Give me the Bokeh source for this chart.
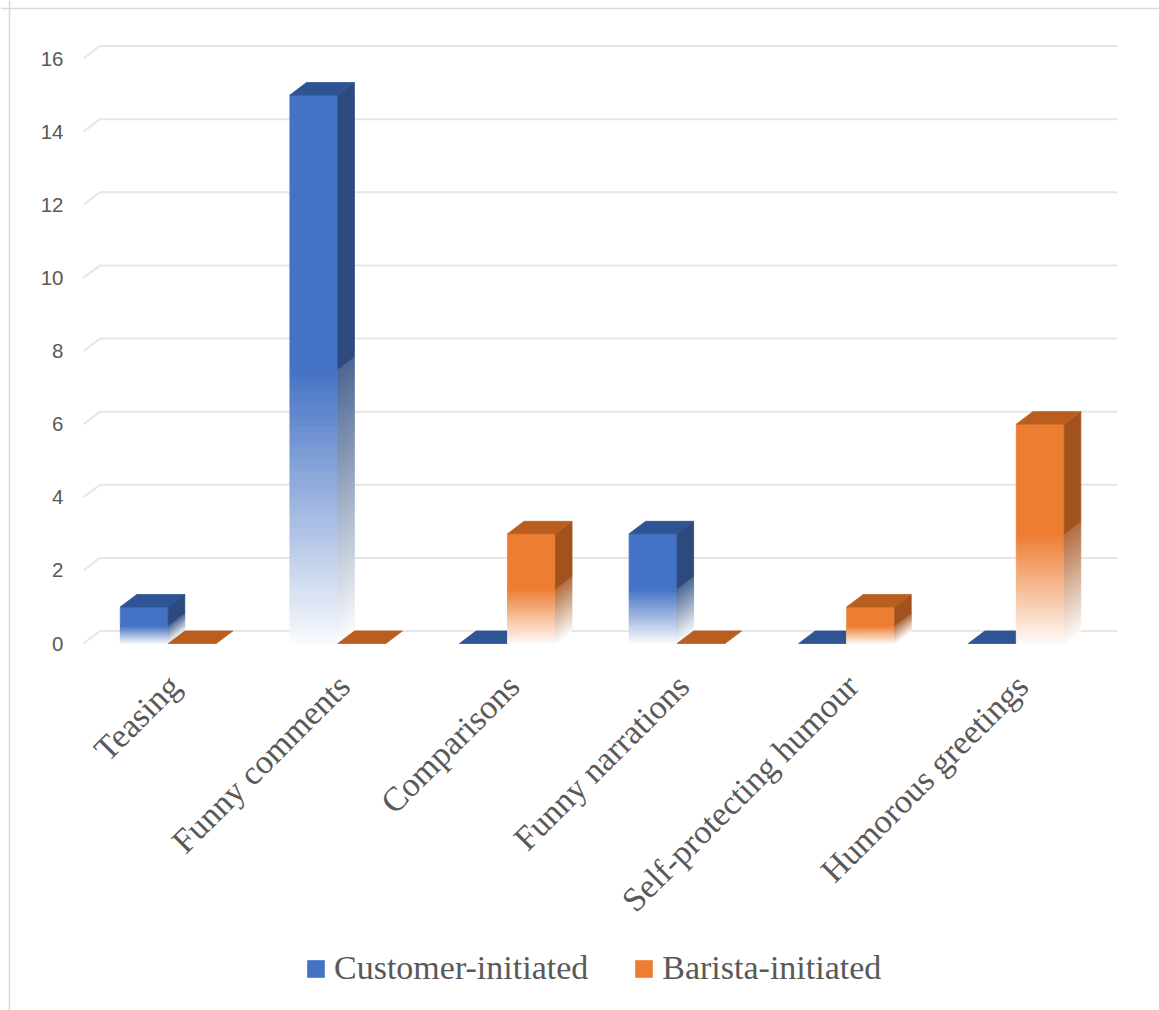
import numpy as np
from bokeh.plotting import figure
from bokeh.models import Legend, LegendItem, Span
from bokeh.embed import file_html
from bokeh.resources import INLINE
from bokeh.core.properties import value

# ---------------- data ----------------
categories = ["Teasing", "Funny comments", "Comparisons", "Funny narrations",
              "Self-protecting humour", "Humorous greetings"]
customer_initiated = [1, 15, 0, 3, 0, 0]
barista_initiated = [0, 0, 3, 0, 1, 6]
series_names = ["Customer-initiated", "Barista-initiated"]
y_ticks = [0, 2, 4, 6, 8, 10, 12, 14, 16]

# ---------------- styling ----------------
front_colors = ["#4472C4", "#ED7D31"]
top_colors = ["#2F5493", "#BA5E20"]
side_colors = ["#2C4A7E", "#A2521C"]
text_color = "#595959"
grid_color = "#E6E6E6"

W, H = 1159, 1010
X0PX, CATPX = 83.0, 169.6      # pixel of category axis start, pixels per category
ZEROPX, UNITPX = 643.0, 36.56  # pixel of value 0 (front), pixels per unit
x_start, x_end = -X0PX / CATPX, (W - X0PX) / CATPX
y_start, y_end = (ZEROPX - H) / UNITPX, ZEROPX / UNITPX

BW = 48.0 / CATPX     # bar width (category units)
DX = 16.5 / CATPX     # depth offset x
DY = 12.5 / UNITPX    # depth offset y
NSTRIP = 48
SOLID_FRAC = 0.5      # top part of each bar drawn solid, below it fades


def hex2rgb(h):
    h = h.lstrip("#")
    return tuple(int(h[i:i + 2], 16) for i in (0, 2, 4))


def blend(h, f):
    r, g, b = hex2rgb(h)
    return "#%02x%02x%02x" % tuple(int(round(c * f + 255 * (1 - f))) for c in (r, g, b))


p = figure(width=W, height=H, x_range=(x_start, x_end), y_range=(y_start, y_end),
           output_backend="svg", toolbar_location=None,
           x_axis_location=None, y_axis_location=None, min_border=0,
           outline_line_color=None, background_fill_color="white",
           border_fill_color="white")
p.grid.visible = False

# chart border (left and top edges visible)
p.add_layout(Span(location=(9 - X0PX) / CATPX, dimension="height",
                  line_color="#D9D9D9", line_width=1.5))
p.add_layout(Span(location=(ZEROPX - 8) / UNITPX, dimension="width",
                  line_color="#D9D9D9", line_width=1.5))

# ---------------- 3D gridlines ----------------
back_right = (1117 - X0PX) / CATPX
gx0, gx1, gy0, gy1 = [], [], [], []
for t in y_ticks:
    gx0 += [0.0, DX]
    gy0 += [t, t + DY]
    gx1 += [DX, back_right]
    gy1 += [t + DY, t + DY]
p.segment(x0=gx0, y0=gy0, x1=gx1, y1=gy1, line_color=grid_color, line_width=2)

# ---------------- bars ----------------
legend_renderers = []
for k, vals in enumerate([customer_initiated, barista_initiated]):
    fx, fy, fc = [], [], []     # faded strips (front + side)
    tx, ty = [], []             # top faces
    sl, sr, sb, st = [], [], [], []   # solid front quads
    sx, sy = [], []             # solid side parts
    for i, v in enumerate(vals):
        x0 = i + 0.5 - BW + k * BW
        x1 = x0 + BW
        # top face
        tx.append([x0, x1, x1 + DX, x0 + DX])
        ty.append([v, v, v + DY, v + DY])
        if v <= 0:
            continue
        ys = v * SOLID_FRAC
        sl.append(x0); sr.append(x1); sb.append(ys); st.append(v)
        sx.append([x1, x1 + DX, x1 + DX, x1])
        sy.append([ys, ys + DY, v + DY, v])
        for j in range(NSTRIP):
            a = ys * j / NSTRIP
            b = ys * (j + 1) / NSTRIP
            f = 0.03 + 0.97 * ((j + 0.5) / NSTRIP)
            # front strip
            fx.append([x0, x1, x1, x0])
            fy.append([a, a, b, b])
            fc.append(blend(front_colors[k], f))
            # side strip
            fx.append([x1, x1 + DX, x1 + DX, x1])
            fy.append([a, a + DY, b + DY, b])
            fc.append(blend(side_colors[k], f * 0.85))
    p.patches(xs=fx, ys=fy, fill_color=fc, line_color=fc, line_width=0.8)
    r = p.quad(left=sl, right=sr, bottom=sb, top=st, fill_color=front_colors[k],
               line_color=front_colors[k], line_width=0.8)
    p.patches(xs=sx, ys=sy, fill_color=side_colors[k], line_color=side_colors[k],
              line_width=0.8)
    p.patches(xs=tx, ys=ty, fill_color=top_colors[k], line_color=top_colors[k],
              line_width=0.8)
    legend_renderers.append(r)

# ---------------- axis texts ----------------
p.text(x=[(63 - X0PX) / CATPX] * len(y_ticks), y=y_ticks,
       text=[str(t) for t in y_ticks], text_align="right", text_baseline="middle",
       text_font=value("Liberation Sans"), text_font_size="20.5px",
       text_color=text_color)

p.text(x=[i + 0.5 + 6 / CATPX for i in range(len(categories))],
       y=[-37 / UNITPX] * len(categories), text=categories, angle=np.pi / 4,
       text_align="right", text_baseline="middle",
       text_font=value("Liberation Serif"), text_font_size="34px",
       text_color=text_color)

# ---------------- legend ----------------
legend = Legend(items=[LegendItem(label=series_names[k], renderers=[legend_renderers[k]])
                       for k in range(2)],
                orientation="horizontal", location=(305, 23),
                glyph_width=21, glyph_height=21, label_standoff=8, spacing=45,
                padding=0, margin=0, border_line_color=None,
                background_fill_alpha=0,
                label_text_font="Liberation Serif", label_text_font_size="34px",
                label_text_color=text_color)
p.add_layout(legend)

open("out.html", "w").write(file_html(p, INLINE))
